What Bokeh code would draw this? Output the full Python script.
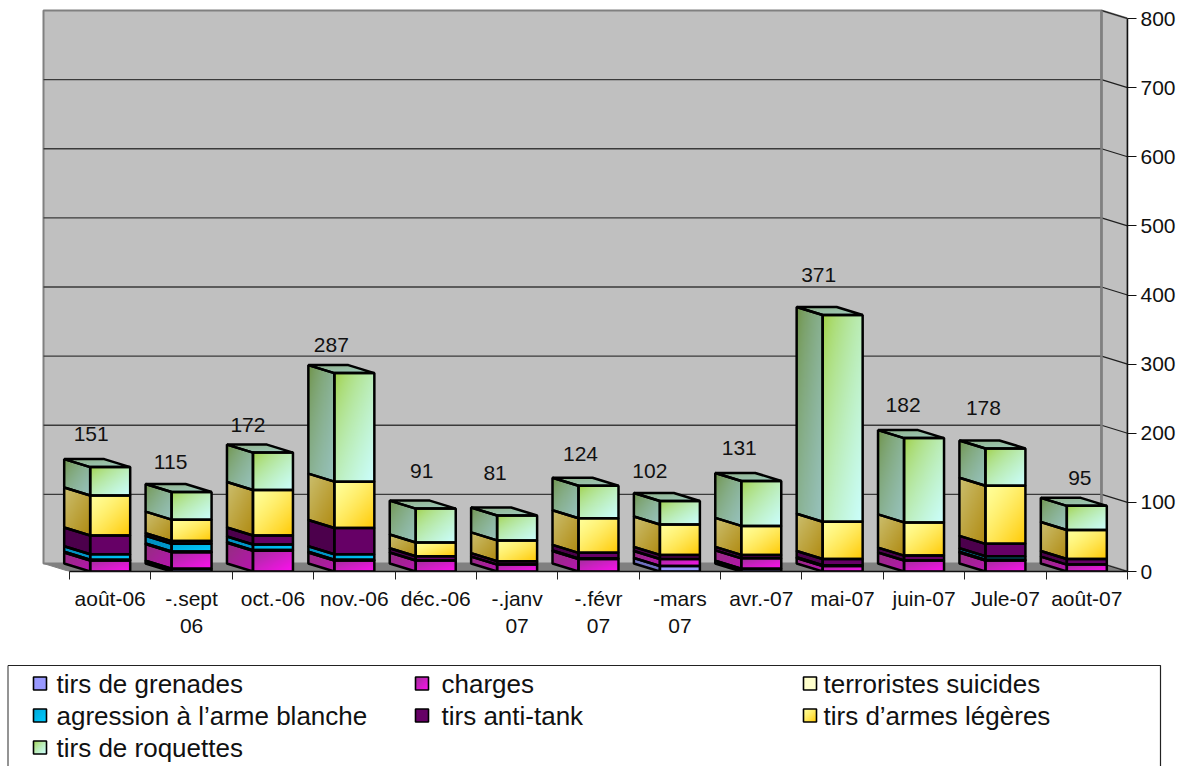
import numpy as np
from bokeh.plotting import figure
from bokeh.layouts import column
from bokeh.models import Range1d, LinearAxis, FixedTicker, ColumnDataSource
from bokeh.core.properties import value
from bokeh.embed import file_html
from bokeh.resources import INLINE

# ---------- data ----------
months = ["août-06", "-.sept\n06", "oct.-06", "nov.-06", "déc.-06", "-.janv\n07", "-.févr\n07",
          "-mars\n07", "avr.-07", "mai-07", "juin-07", "Jule-07", "août-07"]
totals_shown = [151, 115, 172, 287, 91, 81, 124, 102, 131, 371, 182, 178, 95]
grenades  = [0, 4, 0, 0, 0, 0, 0, 8, 4, 0, 0, 0, 0]
charges   = [16, 24, 30, 16, 16, 10, 18, 10, 15, 8, 16, 16, 10]
suicides  = [1, 1, 1, 1, 0, 0, 1, 0, 0, 1, 0, 1, 0]
agression = [8, 11, 8, 8, 0, 0, 0, 0, 0, 0, 0, 5, 0]
antitank  = [27, 4, 13, 38, 6, 5, 8, 6, 5, 9, 7, 18, 8]
legeres   = [58, 31, 66, 67, 20, 30, 50, 44, 42, 54, 48, 84, 42]
roquettes = [41, 40, 54, 157, 49, 36, 47, 34, 65, 299, 122, 54, 35]
series_names = ["tirs de grenades", "charges", "terroristes suicides", "agression à l’arme blanche",
                "tirs anti-tank", "tirs d’armes légères", "tirs de roquettes"]
y_ticks = [0, 100, 200, 300, 400, 500, 600, 700, 800]

# ---------- styling / layout ----------
series_values = [grenades, charges, suicides, agression, antitank, legeres, roquettes]
FRONT = [("#9999FF", "#9999FF"), ("#A0309A", "#FF10F0"), ("#FFFFCC", "#FFFFCC"), ("#00A8D8", "#00CCFF"),
         ("#660066", "#660066"), ("#FFFF99", "#FFC800"), ("#9CCC33", "#CCFFFF")]
SIDE = [("#7070C0", "#7070C0"), ("#93307F", "#B814B0"), ("#C0C090", "#C0C090"), ("#0090C0", "#0099CC"),
        ("#4C004C", "#4C004C"), ("#CCC070", "#B08A10"), ("#6B8E3A", "#99C4C0")]
GAMMA = [1, 1, 1, 1, 1, 1.4, 0.6]
TOP = ("#8FB088", "#A0CDC0")
FONT = "Liberation Sans"
PX_X = 81.385          # pixels per category
PX_Y = 0.69125         # pixels per count
DX = 26 / PX_X
DY = 8 / PX_Y
BAR_W = 40 / PX_X
# value label nudges in pixels, relative to the top of each stack
label_dx = [-19, -21, -25, -23, -14, -22, -18, -30, -22, -24, -21, -22, -7]
label_dy = [33, 30, 28, 28, 38, 43, 32, 30, 33, 40, 33, 40, 28]


def rgb(h):
    return np.array([int(h[i:i + 2], 16) for i in (1, 3, 5)], dtype=float)


def face(w, h, c0, c1, mask_fn, gamma=1.0):
    w = max(int(w), 2)
    h = max(int(h), 2)
    u, v = np.meshgrid((np.arange(w) + .5) / w, (np.arange(h) + .5) / h)
    t = ((u + (1 - v)) / 2) ** gamma
    a, b = rgb(c0), rgb(c1)
    img = np.zeros((h, w), dtype=np.uint32)
    view = img.view(np.uint8).reshape(h, w, 4)
    for k in range(3):
        view[:, :, k] = (a[k] + (b[k] - a[k]) * t).astype(np.uint8)
    view[:, :, 3] = np.where(mask_fn(u, v), 255, 0)
    return img


p = figure(width=1185, height=660, x_range=Range1d(-69 / PX_X, 13), y_range=Range1d(0, 571 / PX_Y),
           output_backend="svg", toolbar_location=None, x_axis_location=None, y_axis_location=None,
           min_border_left=0, min_border_top=0, min_border_right=58, min_border_bottom=89)
p.outline_line_color = None
p.grid.visible = False
p.background_fill_color = "white"

# walls and floor
ymax = y_ticks[-1]
p.patch([-DX, 13 - DX, 13 - DX, -DX], [DY, DY, ymax + DY, ymax + DY], fill_color="#C0C0C0", line_color="#808080", line_width=2)
p.patch([13 - DX, 13, 13, 13 - DX], [DY, 0, ymax, ymax + DY], fill_color="#C0C0C0", line_color="#808080", line_width=2)
p.patch([-DX, 13 - DX, 13, 0], [DY, DY, 0, 0], fill_color="#808080", line_color="#808080", line_width=1)
grid = [t for t in y_ticks if 0 < t < ymax]
p.segment(x0=[-DX] * len(grid), x1=[13 - DX] * len(grid), y0=[t + DY for t in grid], y1=[t + DY for t in grid],
          line_color="#3A3A3A", line_width=1.3)
p.segment(x0=[13 - DX] * len(y_ticks), x1=[13] * len(y_ticks), y0=[t + DY for t in y_ticks], y1=y_ticks,
          line_color="#202020", line_width=1.2)
p.line([13 - DX, 13 - DX], [DY, ymax + DY], line_color="#808080", line_width=2.5)

# bars
imgs, ix, iy, idw, idh = [], [], [], [], []
oxs, oys = [], []
tops = []
for i in range(len(months)):
    x1 = i + .5 - BAR_W / 2
    x2 = i + .5 + BAR_W / 2
    base = 0
    for s, vals in enumerate(series_values):
        val = vals[i]
        if val <= 0:
            continue
        top = base + val
        imgs.append(face(BAR_W * PX_X * 2, val * PX_Y * 2, *FRONT[s], lambda u, v: np.ones_like(u, bool), GAMMA[s]))
        ix.append(x1); iy.append(base); idw.append(BAR_W); idh.append(float(val))
        frac = DY / (val + DY)
        imgs.append(face(DX * PX_X * 2, (val + DY) * PX_Y * 2, *SIDE[s],
                         lambda u, v, f=frac: (v >= (1 - u) * f) & (v <= (1 - u) * f + 1 - f), GAMMA[s] if s == 6 else 1.0))
        ix.append(x1 - DX); iy.append(base); idw.append(DX); idh.append(val + DY)
        oxs += [[x1, x2, x2, x1], [x1 - DX, x1, x1, x1 - DX]]
        oys += [[base, base, top, top], [base + DY, base, top, top + DY]]
        base = top
    r = DX / (BAR_W + DX)
    imgs.append(face((BAR_W + DX) * PX_X * 2, DY * PX_Y * 2, *TOP,
                     lambda u, v, f=r: (u >= f * (1 - v)) & (u <= 1 - f * v)))
    ix.append(x1 - DX); iy.append(base); idw.append(BAR_W + DX); idh.append(DY)
    oxs.append([x1, x2, x2 - DX, x1 - DX])
    oys.append([base, base, base + DY, base + DY])
    tops.append(base)

p.image_rgba(image="image", x="x", y="y", dw="dw", dh="dh",
             source=ColumnDataSource(dict(image=imgs, x=ix, y=iy, dw=idw, dh=idh)))
p.patches(oxs, oys, fill_color=None, line_color="black", line_width=2.5)

# value labels
lab = ColumnDataSource(dict(x=[i + .5 for i in range(len(months))], y=tops, t=[str(v) for v in totals_shown],
                            xo=label_dx, yo=[-d for d in label_dy]))
p.text(x="x", y="y", text="t", x_offset="xo", y_offset="yo", source=lab, text_align="center",
       text_baseline="middle", text_font=value(FONT), text_font_size=value("21px"), text_color="#111111")

# axes
xa = LinearAxis(ticker=FixedTicker(ticks=[i + .5 for i in range(len(months))], minor_ticks=list(range(len(months) + 1))))
xa.major_label_overrides = {i + .5: m for i, m in enumerate(months)}
xa.bounds = (0, 13)
xa.major_tick_out = 0
xa.major_tick_in = 0
xa.minor_tick_out = 8
xa.minor_tick_in = 0
xa.minor_tick_line_color = "#222222"
xa.axis_line_color = "#111111"
xa.axis_line_width = 1.5
xa.major_label_text_font = FONT
xa.major_label_text_font_size = "21px"
xa.major_label_text_color = "#111111"
xa.major_label_standoff = 7
xa.major_label_orientation = "horizontal"
p.add_layout(xa, "below")

ya = LinearAxis(ticker=FixedTicker(ticks=y_ticks))
ya.bounds = (0, 800)
ya.major_tick_out = 9
ya.major_tick_in = 0
ya.minor_tick_out = 0
ya.axis_line_color = "#111111"
ya.axis_line_width = 1.5
ya.major_tick_line_color = "#111111"
ya.major_label_text_font = FONT
ya.major_label_text_font_size = "21px"
ya.major_label_text_color = "#111111"
ya.major_label_standoff = 4
p.add_layout(ya, "right")

# legend panel
q = figure(width=1185, height=106, x_range=Range1d(0, 1185), y_range=Range1d(0, 106), output_backend="svg",
           toolbar_location=None, x_axis_location=None, y_axis_location=None,
           min_border_left=0, min_border_top=0, min_border_right=0, min_border_bottom=0)
q.outline_line_color = None
q.grid.visible = False
q.line([7.5, 7.5], [0, 101], line_color="#707070", line_width=1.5)
q.line([7.5, 1160, 1160], [101, 101, 0], line_color="#222222", line_width=1.2)

col_marker = [33, 415, 803]
col_text = [56, 441, 823]
row_y = [83, 51, 19]
slots = [(0, 0), (1, 0), (2, 0), (0, 1), (1, 1), (2, 1), (0, 2)]
limg, lx, ly, tx, ty = [], [], [], [], []
for s, (c, r) in enumerate(slots):
    limg.append(face(26, 26, *FRONT[s], lambda u, v: np.ones_like(u, bool), GAMMA[s]))
    lx.append(col_marker[c]); ly.append(row_y[r] - 6.5)
    tx.append(col_text[c]); ty.append(row_y[r])
q.image_rgba(image="image", x="x", y="y", dw=13, dh=13,
             source=ColumnDataSource(dict(image=limg, x=lx, y=ly)))
q.rect(x=[v + 6.5 for v in lx], y=[v + 6.5 for v in ly], width=13, height=13, fill_color=None,
       line_color="black", line_width=1.6)
q.text(x=tx, y=ty, text=series_names, text_baseline="middle", text_font=value(FONT),
       text_font_size=value("26px"), text_color="#111111")

open("out.html", "w").write(file_html(column(column(p), column(q)), INLINE))
